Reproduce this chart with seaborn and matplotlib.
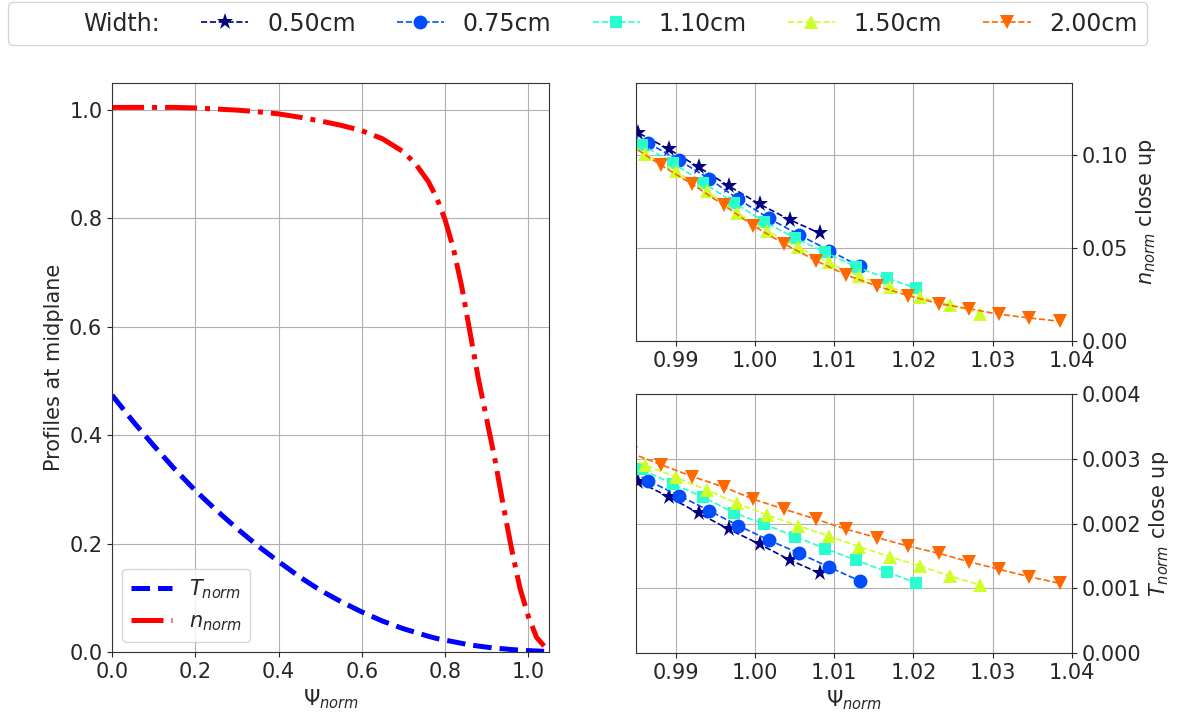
import matplotlib
matplotlib.use("Agg")
import matplotlib.pyplot as plt
import seaborn as sns
from matplotlib.lines import Line2D

# --- Midplane profiles (left panel) ---
psi_prof = [0.0, 0.05, 0.1, 0.15, 0.2, 0.25, 0.3, 0.35, 0.4, 0.45, 0.5, 0.55, 0.6, 0.65,
            0.7, 0.73, 0.76, 0.78, 0.8, 0.82, 0.84, 0.86, 0.88, 0.9, 0.92, 0.94, 0.96,
            0.98, 1.0, 1.02, 1.038]
t_prof = [0.474, 0.426, 0.381, 0.338, 0.298, 0.262, 0.228, 0.196, 0.167, 0.139, 0.114,
          0.093, 0.074, 0.057, 0.043, 0.036, 0.029, 0.025, 0.022, 0.019, 0.016, 0.013,
          0.011, 0.009, 0.007, 0.006, 0.0045, 0.0035, 0.0026, 0.0019, 0.0012]
n_prof = [1.005, 1.005, 1.005, 1.005, 1.004, 1.002, 1.000, 0.997, 0.993, 0.987, 0.980,
          0.972, 0.962, 0.947, 0.923, 0.900, 0.868, 0.838, 0.798, 0.745, 0.675, 0.590,
          0.505, 0.430, 0.355, 0.270, 0.190, 0.118, 0.066, 0.027, 0.011]

# --- Close up near the separatrix, one series per width ---
widths = ["0.50cm", "0.75cm", "1.10cm", "1.50cm", "2.00cm"]

psi_050 = [0.9815, 0.9853, 0.9892, 0.9929, 0.9967, 1.0006, 1.0044, 1.0082]
n_050 = [0.121, 0.1121, 0.1032, 0.0937, 0.0835, 0.0737, 0.0653, 0.0580]
t_050 = [0.00289, 0.002648, 0.002407, 0.002159, 0.001912, 0.001680, 0.001437, 0.001231]

psi_075 = [0.9827, 0.9865, 0.9904, 0.9942, 0.9979, 1.0018, 1.0056, 1.0094, 1.0132]
n_075 = [0.116, 0.1067, 0.0974, 0.0875, 0.0764, 0.0660, 0.0571, 0.0487, 0.0403]
t_075 = [0.00290, 0.002664, 0.002432, 0.002200, 0.001968, 0.001741, 0.001540, 0.001324, 0.001116]

psi_110 = [0.9818, 0.9857, 0.9896, 0.9935, 0.9973, 1.0012, 1.0051, 1.0089, 1.0128, 1.0166, 1.0203]
n_110 = [0.116, 0.1058, 0.0960, 0.0853, 0.0746, 0.0642, 0.0553, 0.0478, 0.0398, 0.0339, 0.0285]
t_110 = [0.00306, 0.002841, 0.002613, 0.002407, 0.002169, 0.001989, 0.001797, 0.001611,
         0.001432, 0.001255, 0.001085]

psi_150 = [0.9822, 0.9861, 0.9900, 0.9939, 0.9977, 1.0015, 1.0054, 1.0093, 1.0131, 1.0170,
           1.0208, 1.0246, 1.0284]
n_150 = [0.111, 0.1010, 0.0915, 0.0808, 0.0692, 0.0594, 0.0505, 0.0424, 0.0349, 0.0290,
         0.0237, 0.0196, 0.0147]
t_150 = [0.00310, 0.002907, 0.002717, 0.002520, 0.002314, 0.002133, 0.001968, 0.001808,
         0.001642, 0.001488, 0.001344, 0.001189, 0.001050]

psi_200 = [0.9843, 0.9882, 0.9921, 0.9961, 0.9998, 1.0037, 1.0077, 1.0115, 1.0154, 1.0193,
           1.0232, 1.0270, 1.0308, 1.0346, 1.0385]
n_200 = [0.1055, 0.0946, 0.0844, 0.0731, 0.0621, 0.0523, 0.0433, 0.0356, 0.0296, 0.0245,
         0.0201, 0.0174, 0.0144, 0.0124, 0.0106]
t_200 = [0.00309, 0.002907, 0.002726, 0.002562, 0.002376, 0.002221, 0.002067, 0.001912,
         0.001782, 0.001653, 0.001540, 0.001410, 0.001293, 0.001178, 0.001076]

psi_all = [psi_050, psi_075, psi_110, psi_150, psi_200]
n_all = [n_050, n_075, n_110, n_150, n_200]
t_all = [t_050, t_075, t_110, t_150, t_200]

# --- Styling ---
markers = ["*", "o", "s", "^", "v"]
msizes = [12.5, 10, 9, 10.5, 10.5]
colors = [plt.cm.jet(v) for v in [0.0, 0.2, 0.4, 0.6, 0.8]]
FS = 15

sns.set_style("ticks", {"axes.grid": True, "grid.color": "#b0b0b0",
                        "axes.edgecolor": "#333333"})
plt.rcParams["font.family"] = ["DejaVu Sans"]
plt.rcParams["mathtext.fontset"] = "dejavusans"

fig = plt.figure(figsize=(11.77, 7.15), dpi=100)
ax_l = fig.add_axes([0.0952, 0.0881, 0.3713, 0.7958])
ax_n = fig.add_axes([0.5404, 0.5231, 0.3704, 0.3608])
ax_t = fig.add_axes([0.5404, 0.0867, 0.3704, 0.3622])

# --- Left panel ---
sns.lineplot(x=psi_prof, y=t_prof, ax=ax_l, color="blue", lw=3.6, linestyle="--",
             label="$T_{norm}$", sort=False)
sns.lineplot(x=psi_prof, y=n_prof, ax=ax_l, color="red", lw=3.6, linestyle="-.",
             label="$n_{norm}$", sort=False)
ax_l.set_xlim(0, 1.05)
ax_l.set_ylim(0, 1.05)
ax_l.set_xticks([0.0, 0.2, 0.4, 0.6, 0.8, 1.0])
ax_l.set_yticks([0.0, 0.2, 0.4, 0.6, 0.8, 1.0])
ax_l.set_xlabel(r"$\Psi_{norm}$", fontsize=FS)
ax_l.set_ylabel("Profiles at midplane", fontsize=FS)
ax_l.tick_params(labelsize=FS)
ax_l.legend(loc="lower left", fontsize=FS)

# --- Close ups ---
for i, w in enumerate(widths):
    kw = dict(color=colors[i], marker=markers[i], markersize=msizes[i], linestyle="--",
              lw=1.2, markeredgecolor=colors[i], markeredgewidth=0, sort=False)
    sns.lineplot(x=psi_all[i], y=n_all[i], ax=ax_n, **kw)
    sns.lineplot(x=psi_all[i], y=t_all[i], ax=ax_t, **kw)

for ax in [ax_n, ax_t]:
    ax.set_xlim(0.985, 1.04)
    ax.set_xticks([0.99, 1.00, 1.01, 1.02, 1.03, 1.04])
    ax.yaxis.tick_right()
    ax.yaxis.set_label_position("right")
    ax.tick_params(labelsize=FS)

ax_n.set_ylim(0, 0.139)
ax_n.set_yticks([0.00, 0.05, 0.10])
ax_n.set_ylabel("$n_{norm}$ close up", fontsize=FS)
ax_t.set_ylim(0, 0.004)
ax_t.set_yticks([0.000, 0.001, 0.002, 0.003, 0.004])
ax_t.set_ylabel("$T_{norm}$ close up", fontsize=FS)
ax_t.set_xlabel(r"$\Psi_{norm}$", fontsize=FS)

# --- Figure legend on top ---
handles = [Line2D([], [], linestyle="none")]
labels = ["Width:"]
for i, w in enumerate(widths):
    handles.append(Line2D([], [], color=colors[i], marker=markers[i], markersize=msizes[i],
                          linestyle="--", lw=1.2, markeredgewidth=0))
    labels.append(w)
fig.legend(handles, labels, loc="upper left", ncol=6, mode="expand", fontsize=17,
           bbox_to_anchor=(0.0068, 0.0, 0.968, 0.997), borderaxespad=0)

fig.savefig("out.png", dpi=100)
